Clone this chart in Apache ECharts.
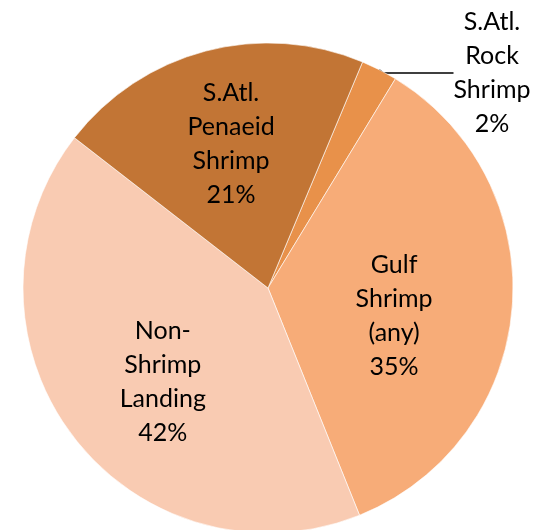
<!DOCTYPE html>
<html>
<head>
<meta charset="utf-8">
<script src="https://cdn.jsdelivr.net/npm/echarts@6/dist/echarts.min.js"></script>
<style>
  html, body { margin: 0; padding: 0; background: #ffffff; }
  #chart { width: 538px; height: 530px; }
</style>
</head>
<body>
<div id="chart"></div>
<script>
// slices in clockwise order starting from the small rock shrimp slice
const names = ["S.Atl.\nRock\nShrimp", "Gulf\nShrimp\n(any)", "Non-\nShrimp\nLanding", "S.Atl.\nPenaeid\nShrimp"];
const shares = [2.4, 35.2, 41.6, 20.8];
const colors = ["#E8914A", "#F7AC78", "#F9CBB2", "#C27535"];

// small nudges so labels sit where the original puts them
const labelShift = [[0, 0], [1, 18], [-5, 18], [-5, -23]];

const chart = echarts.init(document.getElementById("chart"));

chart.setOption({
  animation: false,
  backgroundColor: "#ffffff",
  series: [
    {
      type: "pie",
      center: [268, 288],
      radius: 245,
      startAngle: 67.3,
      clockwise: true,
      avoidLabelOverlap: false,
      itemStyle: { borderColor: "#ffffff", borderWidth: 0.6 },
      label: {
        show: true,
        position: "inside",
        fontFamily: "Lato",
        fontSize: 25,
        lineHeight: 34,
        color: "#000000",
        align: "center",
        formatter: (p) => `${p.name}\n${Math.round(p.percent)}%`,
      },
      labelLayout: (p) => {
        if (p.dataIndex === 0) {
          return { x: 492, y: 73, align: "center", verticalAlign: "middle" };
        }
        const s = labelShift[p.dataIndex];
        return { dx: s[0], dy: s[1] };
      },
      data: names.map((name, i) => {
        const item = { name, value: shares[i], itemStyle: { color: colors[i] } };
        if (i === 0) {
          item.label = { position: "outside" };
          item.labelLine = {
            show: true,
            length: 2,
            length2: 70,
            smooth: false,
            lineStyle: { color: "#000000", width: 1.5 },
          };
        }
        return item;
      }),
    },
  ],
});
</script>
</body>
</html>
